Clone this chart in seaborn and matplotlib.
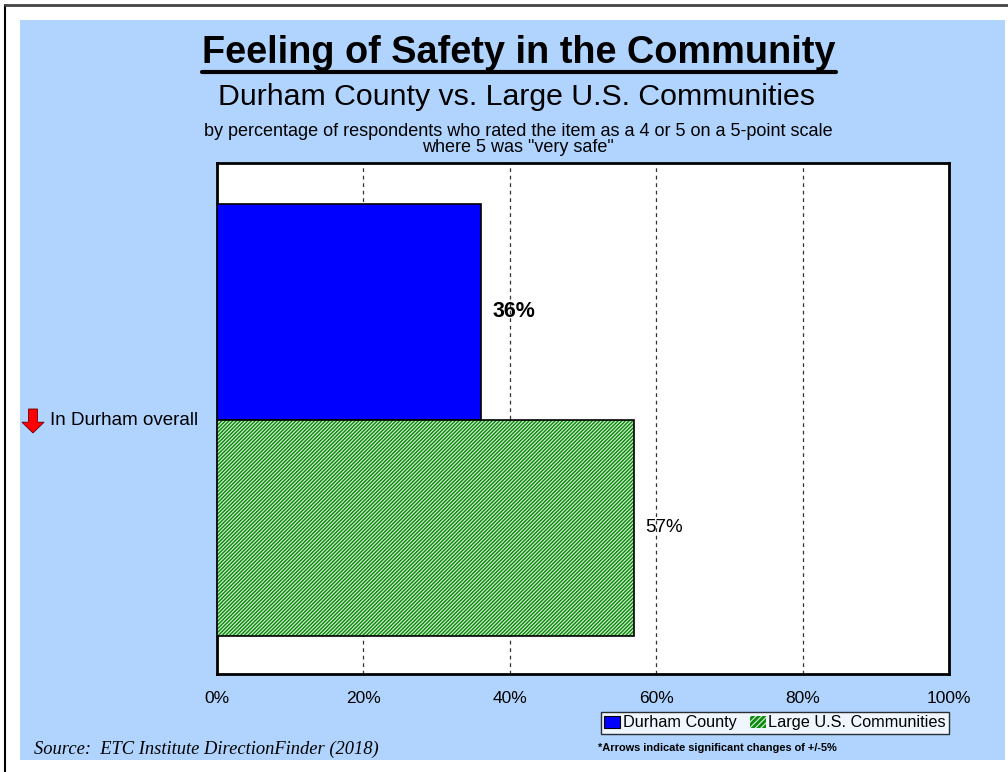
import matplotlib
matplotlib.use("Agg")
import matplotlib.pyplot as plt
import seaborn as sns
import pandas as pd
from matplotlib.patches import Rectangle, FancyArrow, Patch
from matplotlib.lines import Line2D

# ---- data ----
categories = ["In Durham overall"]
series = ["Durham County", "Large U.S. Communities"]
durham_values = [36]
large_values = [57]
x_ticks = [0, 20, 40, 60, 80, 100]
x_tick_labels = ["0%", "20%", "40%", "60%", "80%", "100%"]

title = "Feeling of Safety in the Community"
subtitle = "Durham County vs. Large U.S. Communities"
note1 = "by percentage of respondents who rated the item as a 4 or 5 on a 5-point scale"
note2 = 'where 5 was "very safe"'
source = "Source:  ETC Institute DirectionFinder (2018)"
footnote = "*Arrows indicate significant changes of +/-5%"

df = pd.DataFrame({
    "category": categories * 2,
    "series": [series[0]] * len(categories) + [series[1]] * len(categories),
    "value": durham_values + large_values,
})

sns.set_theme(style="white")
plt.rcParams["font.family"] = ["Liberation Sans", "DejaVu Sans"]
plt.rcParams["text.color"] = "black"
plt.rcParams["xtick.color"] = "black"
plt.rcParams["ytick.color"] = "black"
plt.rcParams["hatch.linewidth"] = 0.8

PANEL = "#B0D4FE"
BLUE = "#0000FF"
GREEN = "#118A11"
HATCH = "#D6F3D6"
HATCH_PAT = "/////////"

fig = plt.figure(figsize=(10.08, 7.72), dpi=100)
fig.patch.set_facecolor("white")
W, H = 1008, 772

def fx(px):
    return px / W

def fy(py):
    return 1 - py / H

# background panel and frame lines
fig.add_artist(Rectangle((fx(20), fy(760)), fx(1005) - fx(20), fy(20) - fy(760),
                         transform=fig.transFigure, facecolor=PANEL, edgecolor="none", zorder=0))
fig.add_artist(Line2D([fx(5), fx(5)], [0, fy(5)], transform=fig.transFigure, color="black", lw=1.5))
fig.add_artist(Line2D([fx(5), 1], [fy(5), fy(5)], transform=fig.transFigure, color="#444444", lw=2))

ax = fig.add_axes([fx(217), fy(674), fx(949) - fx(217), fy(163) - fy(674)])
ax.set_facecolor("white")

sns.barplot(data=df, y="category", x="value", hue="series", orient="h",
            palette=[BLUE, GREEN], hue_order=series, width=0.8, ax=ax,
            legend=False, saturation=1, zorder=3)

# style bars
bars = ax.patches
blue_bar, green_bar = bars[0], bars[1]
blue_bar.set_edgecolor("black")
blue_bar.set_linewidth(1.2)
green_bar.set_facecolor(GREEN)
green_bar.set_edgecolor(HATCH)
green_bar.set_hatch(HATCH_PAT)
green_bar.set_linewidth(0)
outline = Rectangle(green_bar.get_xy(), green_bar.get_width(), green_bar.get_height(),
                    fill=False, edgecolor="black", linewidth=1.2, zorder=4)
ax.add_patch(outline)

ax.set_xlim(0, 100)
ax.set_ylim(0.47, -0.475)
ax.set_xticks(x_ticks)
ax.set_xticklabels(x_tick_labels, fontsize=12.5)
ax.tick_params(axis="x", length=0, pad=12)
ax.set_yticks([])
ax.set_xlabel("")
ax.set_ylabel("")
for x in x_ticks[1:-1]:
    ax.axvline(x, color="#333333", lw=0.9, ls=(0, (3, 3)), zorder=1)
for s in ax.spines.values():
    s.set_visible(True)
    s.set_color("black")
    s.set_linewidth(2)

# value labels
ax.text(blue_bar.get_width() + 1.6, blue_bar.get_y() + blue_bar.get_height() / 2,
        f"{durham_values[0]}%", fontsize=15.5, fontweight="bold", va="center", ha="left")
ax.text(green_bar.get_width() + 1.5, green_bar.get_y() + green_bar.get_height() / 2,
        f"{large_values[0]}%", fontsize=13.5, va="center", ha="left")

# category label with red arrow
fig.text(fx(50), fy(420), categories[0], fontsize=13.5, va="center", ha="left")
fig.add_artist(FancyArrow(fx(33), fy(409), 0, fy(433) - fy(409), width=0.009,
                          head_width=0.022, head_length=0.014, length_includes_head=True,
                          transform=fig.transFigure, facecolor="#FF0000", edgecolor="#660000",
                          lw=0.6))

# titles
t = fig.text(fx(519), fy(53), title, fontsize=27.3, fontweight="bold", ha="center", va="center")
fig.text(fx(517), fy(97), subtitle, fontsize=21.8, ha="center", va="center")
fig.text(fx(518), fy(131), note1, fontsize=13, ha="center", va="center")
fig.text(fx(518), fy(148), note2, fontsize=13, ha="center", va="center")

# underline title
fig.canvas.draw()
bb = t.get_window_extent(renderer=fig.canvas.get_renderer()).transformed(fig.transFigure.inverted())
fig.add_artist(Line2D([bb.x0, bb.x1], [fy(72), fy(72)], transform=fig.transFigure,
                      color="black", lw=3))

# legend
handles = [Patch(facecolor=BLUE, edgecolor="black", lw=0.8),
           Patch(facecolor=GREEN, edgecolor=HATCH, hatch="//////", lw=0)]
leg = fig.legend(handles, series, loc="center", bbox_to_anchor=(fx(775), fy(723)),
                 ncol=2, fontsize=11.7, frameon=True, fancybox=False, handlelength=1.0,
                 handleheight=0.8, handletextpad=0.15, columnspacing=0.8, borderpad=0.2,
                 borderaxespad=0)
leg.get_frame().set_edgecolor("black")
leg.get_frame().set_linewidth(1.0)

fig.text(fx(598), fy(748), footnote, fontsize=7.9, fontweight="bold", ha="left", va="center")
fig.text(fx(34), fy(749), source, fontsize=13.3, style="italic", family="Liberation Serif",
         ha="left", va="center")

fig.savefig("out.png", dpi=100, facecolor=fig.get_facecolor())
